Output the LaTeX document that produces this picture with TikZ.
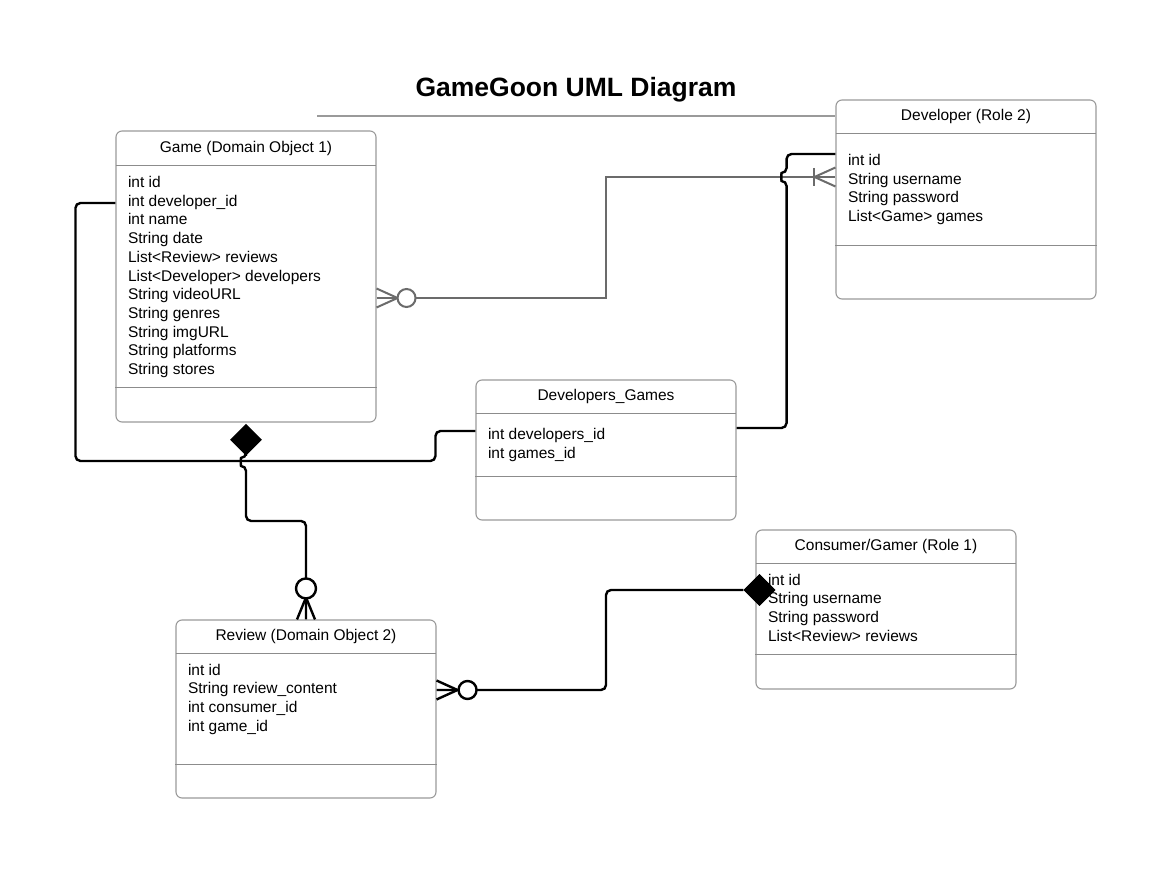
\documentclass[tikz,border=0pt]{standalone}
\usepackage{fontspec}
\setmainfont{Liberation Sans}
\usetikzlibrary{shapes.geometric,calc}
\definecolor{boxgray}{HTML}{9A9A9A}
\definecolor{sepgray}{HTML}{8C8C8C}
\definecolor{linkgray}{HTML}{6B6B6B}

\begin{document}
\begin{tikzpicture}[x=1pt, y=-1pt,
  box/.style={draw=boxgray, line width=1.1pt, rounded corners=6pt, minimum width=260pt, inner sep=0pt, fill=white},
  head/.style={minimum width=260pt, minimum height=35pt, inner sep=0pt, anchor=north, font=\fontsize{15.5}{18.7}\selectfont},
  attrs/.style={anchor=north west, inner sep=0pt, align=left, font=\fontsize{15.5}{18.7}\selectfont},
  sep/.style={draw=sepgray, line width=1pt},
  link/.style={black, line width=2.4pt, rounded corners=5pt},
  foot/.style={black, line width=2.4pt},
  greylink/.style={linkgray, line width=2pt},
  filled/.style={diamond, fill=black, minimum width=32pt, minimum height=32pt, inner sep=0pt}]
  \useasboundingbox (0,0) rectangle (1152,869);

  % title
  \node[font=\fontsize{26.5}{30}\selectfont\bfseries] (title) at (576,90) {GameGoon UML Diagram};

  % classes
  \node[box, minimum height=291pt] (game) at (246,276.5) {};
  \node[head] (gamehead) at (game.north) {Game (Domain Object 1)};
  \draw[sep] (gamehead.south west) -- (gamehead.south east);
  \draw[sep] ([yshift=35pt]game.south west) -- ([yshift=35pt]game.south east);
  \node[attrs] (gameattrs) at ([xshift=12pt, yshift=-10.3pt]gamehead.south west)
    {int id\\int developer\_id\\int name\\String date\\List<Review> reviews\\List<Developer> developers\\String videoURL\\String genres\\String imgURL\\String platforms\\String stores};

  \node[box, minimum height=199pt] (dev) at (966,199.5) {};
  \node[head, minimum height=34pt] (devhead) at (dev.north) {Developer (Role 2)};
  \draw[sep] (devhead.south west) -- (devhead.south east);
  \draw[sep] ([yshift=54pt]dev.south west) -- ([yshift=54pt]dev.south east);
  \node[attrs] (devattrs) at ([xshift=12pt, yshift=-20.3pt]devhead.south west)
    {int id\\String username\\String password\\List<Game> games};

  \node[box, minimum height=140pt] (devgames) at (606,450) {};
  \node[head, minimum height=34pt] (devgameshead) at (devgames.north) {Developers\_Games};
  \draw[sep] (devgameshead.south west) -- (devgameshead.south east);
  \draw[sep] ([yshift=44pt]devgames.south west) -- ([yshift=44pt]devgames.south east);
  \node[attrs] (devgamesattrs) at ([xshift=12pt, yshift=-14.5pt]devgameshead.south west)
    {int developers\_id\\int games\_id};

  \node[box, minimum height=159pt] (gamer) at (886,609.5) {};
  \node[head, minimum height=34pt] (gamerhead) at (gamer.north) {Consumer/Gamer (Role 1)};
  \draw[sep] (gamerhead.south west) -- (gamerhead.south east);
  \draw[sep] ([yshift=35pt]gamer.south west) -- ([yshift=35pt]gamer.south east);
  \node[attrs] (gamerattrs) at ([xshift=12pt, yshift=-9.8pt]gamerhead.south west)
    {int id\\String username\\String password\\List<Review> reviews};

  \node[box, minimum height=178pt] (review) at (306,709) {};
  \node[head, minimum height=34pt] (reviewhead) at (review.north) {Review (Domain Object 2)};
  \draw[sep] (reviewhead.south west) -- (reviewhead.south east);
  \draw[sep] ([yshift=34pt]review.south west) -- ([yshift=34pt]review.south east);
  \node[attrs] (reviewattrs) at ([xshift=12pt, yshift=-9.8pt]reviewhead.south west)
    {int id\\String review\_content\\int consumer\_id\\int game\_id};

  % rule under the title
  \coordinate (rulestart) at (317,116);
  \draw[boxgray, line width=1.1pt] (rulestart) -- (rulestart -| dev.west);

  % game -- developer
  \coordinate (gd) at ($(game.east)+(0,21.5)$);
  \coordinate (dg) at ($(dev.west)+(0,-22.5)$);
  \draw[greylink] (gd) -- (gd -| devgames.center) |- (dg);
  \draw[greylink] ($(gd)+(0,-9.5)$) -- ($(gd)+(21,0)$) -- ($(gd)+(0,9.5)$);
  \draw[greylink, fill=white] ($(gd)+(30,0)$) circle (9pt);
  \draw[greylink] ($(dg)+(0,-9.5)$) -- ($(dg)+(-21,0)$) -- ($(dg)+(0,9.5)$);
  \draw[greylink] ($(dg)+(-21,-9)$) -- ($(dg)+(-21,9)$);

  % developers_games -- developer
  \coordinate (dgr) at ($(devgames.east)+(0,-22)$);
  \coordinate (devtop) at ($(dev.west)+(0,-45.5)$);
  \draw[link] (dgr) -- ++(50,0) -- ++(0,-247) .. controls +(-5.3,0) and +(-5.3,0) .. ++(0,-8) |- (devtop);

  % developers_games -- game
  \coordinate (dgl) at ($(devgames.west)+(0,-19)$);
  \coordinate (gl) at ($(game.west)+(0,-73.5)$);
  \draw[link] (dgl) -- ++(-40,0) -- ++(0,30) -- ++(-360,0) |- (gl);

  % game -- review
  \node[filled, anchor=north] (gamedia) at ($(game.south)+(0,1)$) {};
  \draw[link] (gamedia.south) -- ++(0,2) .. controls +(-5.3,0) and +(-5.3,0) .. ++(0,8) -- ++(0,55) -| (review.north);
  \draw[foot] ($(review.north)+(-9,0)$) -- ($(review.north)+(0,-22)$) -- ($(review.north)+(9,0)$);
  \draw[foot, fill=white] ($(review.north)+(0,-31)$) circle (10pt);

  % review -- consumer
  \coordinate (rr) at ($(review.east)+(0,-19)$);
  \node[filled] (gamerdia) at ($(gamer.west)+(4,-19.5)$) {};
  \draw[link] (rr) -- (rr -| devgames.center) |- (gamerdia.west);
  \draw[foot] ($(rr)+(0,-9.5)$) -- ($(rr)+(21,0)$) -- ($(rr)+(0,9.5)$);
  \draw[foot, fill=white] ($(rr)+(31,0)$) circle (9pt);
  \node[filled] at (gamerdia) {};
\end{tikzpicture}
\end{document}
